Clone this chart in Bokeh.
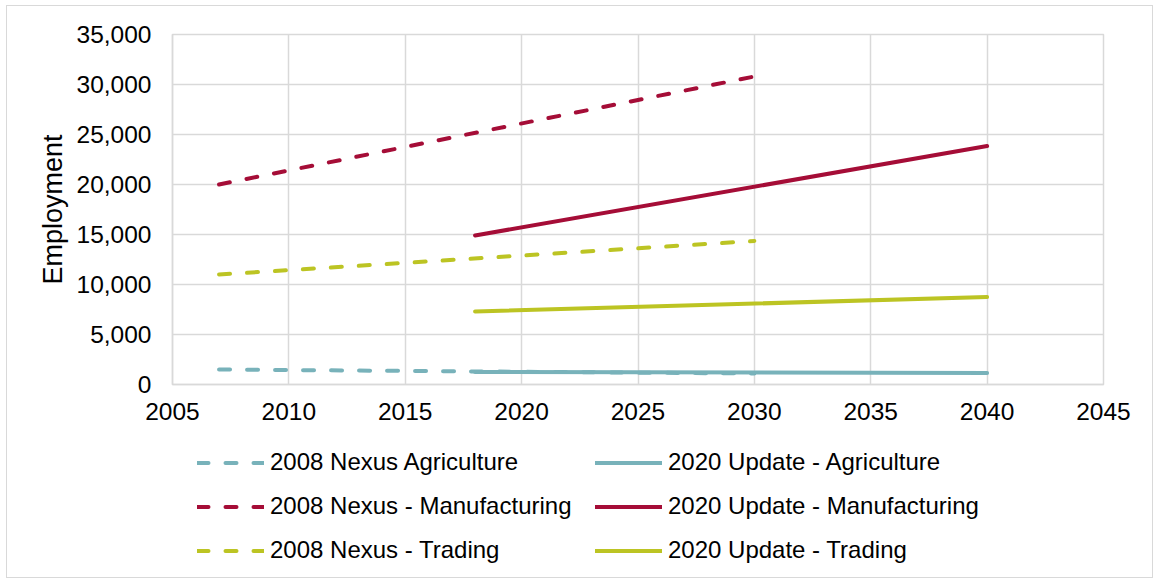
from bokeh.plotting import figure
from bokeh.layouts import column
from bokeh.models import Range1d, FixedTicker, NumeralTickFormatter, Legend, LegendItem
from bokeh.embed import file_html
from bokeh.resources import INLINE

# ---- data ----
years_2008 = [2007, 2030]
years_2020 = [2018, 2040]
nexus_agriculture = [1500, 1100]
nexus_manufacturing = [20000, 30800]
nexus_trading = [11000, 14350]
update_agriculture = [1250, 1150]
update_manufacturing = [14900, 23850]
update_trading = [7300, 8750]

x_ticks = [2005, 2010, 2015, 2020, 2025, 2030, 2035, 2040, 2045]
y_ticks = [0, 5000, 10000, 15000, 20000, 25000, 30000, 35000]

TEAL = "#78B2BA"
CRIMSON = "#A50D37"
LIME = "#BCC423"
GRID = "#d9d9d9"
FONT = "Liberation Sans"
FS = "24.5px"
LEG_FS = "24px"
LW = 4
DASH = "11 17"

series = [
    ("2008 Nexus Agriculture", years_2008, nexus_agriculture, TEAL, DASH),
    ("2008 Nexus - Manufacturing", years_2008, nexus_manufacturing, CRIMSON, DASH),
    ("2008 Nexus - Trading", years_2008, nexus_trading, LIME, DASH),
    ("2020 Update - Agriculture", years_2020, update_agriculture, TEAL, "solid"),
    ("2020 Update - Manufacturing", years_2020, update_manufacturing, CRIMSON, "solid"),
    ("2020 Update - Trading", years_2020, update_trading, LIME, "solid"),
]

TOP_H = 430
p = figure(width=1160, height=TOP_H, output_backend="svg", toolbar_location=None,
           x_range=Range1d(2005, 2045), y_range=Range1d(0, 35000),
           min_border_left=172, min_border_top=34, min_border_right=57, min_border_bottom=TOP_H - 384)
p.outline_line_color = GRID
p.outline_line_width = 1.5
p.background_fill_color = "white"
p.border_fill_color = "white"

p.xaxis.ticker = FixedTicker(ticks=x_ticks)
p.yaxis.ticker = FixedTicker(ticks=y_ticks)
p.yaxis.formatter = NumeralTickFormatter(format="0,0")
p.grid.grid_line_color = GRID
p.grid.grid_line_width = 1.5
for ax in (p.xaxis, p.yaxis):
    ax.axis_line_color = GRID
    ax.axis_line_width = 1.5
    ax.major_tick_line_color = None
    ax.minor_tick_line_color = None
    ax.major_tick_out = 0
    ax.major_tick_in = 0
    ax.major_label_text_font = FONT
    ax.major_label_text_font_size = FS
    ax.major_label_text_color = "black"
p.yaxis.major_label_standoff = 21
p.xaxis.major_label_standoff = 18
p.yaxis.axis_label = "Employment"
p.yaxis.axis_label_text_font = FONT
p.yaxis.axis_label_text_font_size = "27px"
p.yaxis.axis_label_text_font_style = "normal"
p.yaxis.axis_label_text_color = "black"
p.yaxis.axis_label_standoff = 6

for name, xs, ys, col, dash in series:
    p.line(xs, ys, color=col, line_width=LW, line_dash=dash, line_cap="round")

# legend panel below the chart (same series, drawn off-range so only legend shows)
q = figure(width=1160, height=584 - TOP_H, output_backend="svg", toolbar_location=None,
           x_range=Range1d(-10, -9), y_range=Range1d(0, 35000),
           x_axis_location=None, y_axis_location=None, min_border=0)
q.grid.visible = False
q.outline_line_color = None
q.border_fill_color = "white"
q.background_fill_color = "white"
rs = []
for name, xs, ys, col, dash in series:
    rs.append((name, q.line(xs, ys, color=col, line_width=LW, line_dash=dash, line_cap="round")))


def make_legend(items, loc):
    lg = Legend(items=[LegendItem(label=n, renderers=[r]) for n, r in items], location=loc)
    lg.padding = 0
    lg.margin = 0
    lg.border_line_color = None
    lg.background_fill_alpha = 0
    lg.glyph_width = 67
    lg.glyph_height = 27
    lg.label_height = 27
    lg.label_standoff = 6
    lg.spacing = 16
    lg.label_text_font = FONT
    lg.label_text_font_size = LEG_FS
    lg.label_text_color = "black"
    return lg


q.add_layout(make_legend(rs[:3], (25, 20)))
q.add_layout(make_legend(rs[3:], (423, 20)))

layout = column(p, q, spacing=0)
layout.stylesheets = [
    ":host { position: relative; }"
    ":host::after { content: ''; position: absolute; left: 6px; top: 5px; right: 7px; bottom: 6px;"
    " border: 1.5px solid #d9d9d9; pointer-events: none; z-index: 100; }"
]

open("out.html", "w").write(file_html(layout, INLINE))
